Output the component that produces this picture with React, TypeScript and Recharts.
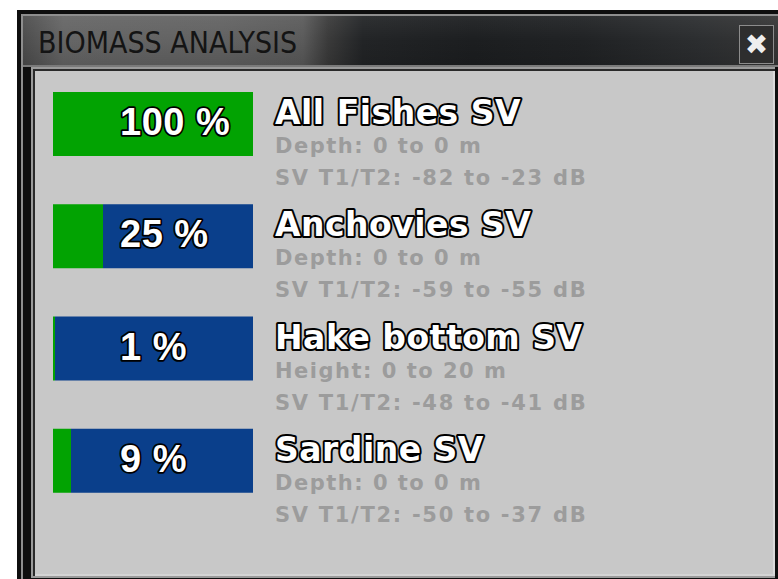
import React from "react";
import { BarChart, Bar, XAxis, YAxis, LabelList } from "recharts";

const names = ["All Fishes SV", "Anchovies SV", "Hake bottom SV", "Sardine SV"];
const percents = [100, 25, 1, 9];
const rangeLines = ["Depth: 0 to 0 m", "Depth: 0 to 0 m", "Height: 0 to 20 m", "Depth: 0 to 0 m"];
const svLines = [
  "SV T1/T2: -82 to -23 dB",
  "SV T1/T2: -59 to -55 dB",
  "SV T1/T2: -48 to -41 dB",
  "SV T1/T2: -50 to -37 dB",
];

const data = names.map((n, i) => ({
  name: n,
  pct: percents[i],
  rest: 100 - percents[i],
  range: rangeLines[i],
  sv: svLines[i],
}));

const GREEN = "#02a302";
const BLUE = "#0a3f8b";

const RowLabel = (props: any) => {
  const { x, y, index } = props;
  const d = data[index];
  if (!d) return null;
  const nx = x + 222;
  return (
    <g>
      <text
        x={x + 67}
        y={y + 43}
        fill="#ffffff"
        stroke="#000000"
        strokeWidth={3.5}
        strokeLinejoin="round"
        paintOrder="stroke"
        fontFamily="'Liberation Sans', Arial, sans-serif"
        fontWeight="bold"
        fontSize={38}
        letterSpacing={0.5}
      >
        {`${d.pct} %`}
      </text>
      <text
        x={nx}
        y={y + 32}
        fill="#ffffff"
        stroke="#000000"
        strokeWidth={4}
        strokeLinejoin="round"
        paintOrder="stroke"
        fontFamily="'DejaVu Sans', sans-serif"
        fontWeight="bold"
        fontSize={33}
        letterSpacing={0.5}
      >
        {d.name}
      </text>
      <text
        x={nx}
        y={y + 61}
        fill="#9c9c9c"
        fontFamily="'DejaVu Sans', sans-serif"
        fontWeight="bold"
        fontSize={21}
        letterSpacing={1.5}
      >
        {d.range}
      </text>
      <text
        x={nx}
        y={y + 93}
        fill="#9c9c9c"
        fontFamily="'DejaVu Sans', sans-serif"
        fontWeight="bold"
        fontSize={21}
        letterSpacing={1.7}
      >
        {d.sv}
      </text>
    </g>
  );
};

const box = (l: number, t: number, w: number, h: number, bg: string): React.CSSProperties => ({
  position: "absolute",
  left: l,
  top: t,
  width: w,
  height: h,
  background: bg,
});

export default function App() {
  return (
    <div
      style={{
        position: "absolute",
        left: 0,
        top: 0,
        width: 778,
        height: 579,
        background: "#ffffff",
        overflow: "hidden",
      }}
    >
      {/* window frame */}
      <div style={box(17, 10, 761, 569, "#0e0e0e")} />
      <div style={box(21, 14, 757, 2, "#8e8e8e")} />
      <div style={box(21, 14, 2, 565, "#8e8e8e")} />
      <div
        style={{
          ...box(23, 16, 755, 50, ""),
          background:
            "linear-gradient(90deg, #4c4c4c 0px, #656565 40px, #626262 200px, #5a5a5a 280px, #3a3a3a 305px, #222426 340px, #1c1e20 450px, #202224 560px, #2c2e30 680px, #363636 755px)",
        }}
      />
      <div
        style={{
          ...box(23, 16, 755, 50, ""),
          background: "linear-gradient(180deg, rgba(255,255,255,0.06) 0px, rgba(0,0,0,0) 25px, rgba(0,0,0,0.12) 50px)",
        }}
      />
      <div style={box(23, 65, 755, 2, "#7a7a7a")} />
      <div
        style={{
          position: "absolute",
          left: 38,
          top: 24,
          fontFamily: "'DejaVu Sans Condensed', 'Liberation Sans Narrow', 'Liberation Sans', sans-serif",
          fontSize: 30,
          color: "#141414",
          lineHeight: "38px",
          whiteSpace: "nowrap",
        }}
      >
        BIOMASS ANALYSIS
      </div>
      {/* close button */}
      <div
        style={{
          position: "absolute",
          left: 739,
          top: 25,
          width: 33,
          height: 37,
          border: "1px solid #8c8c8c",
          background: "#2e2e2e",
          color: "#eeeeee",
          fontFamily: "'DejaVu Sans', sans-serif",
          fontWeight: "bold",
          fontSize: 28,
          lineHeight: "37px",
          textAlign: "center",
        }}
      >
        ✖
      </div>
      {/* content panel */}
      <div style={box(31, 67, 744, 511, "#9a9a9a")} />
      <div style={box(33, 69, 742, 507, "#2a2a2a")} />
      <div style={box(35, 71, 738, 504, "#c8c8c8")} />
      <div style={box(773, 71, 2, 504, "#dadada")} />
      <div style={box(35, 574, 740, 2, "#d4d4d4")} />
      <div style={{ position: "absolute", left: 0, top: 0 }}>
        <BarChart
          width={778}
          height={579}
          data={data}
          layout="vertical"
          margin={{ top: 68, right: 525, bottom: 62, left: 53 }}
        >
          <XAxis type="number" domain={[0, 100]} hide />
          <YAxis type="category" dataKey="name" hide />
          <Bar dataKey="pct" stackId="a" fill={GREEN} barSize={64} isAnimationActive={false}>
            <LabelList dataKey="pct" content={RowLabel} />
          </Bar>
          <Bar dataKey="rest" stackId="a" fill={BLUE} barSize={64} isAnimationActive={false} />
        </BarChart>
      </div>
    </div>
  );
}
